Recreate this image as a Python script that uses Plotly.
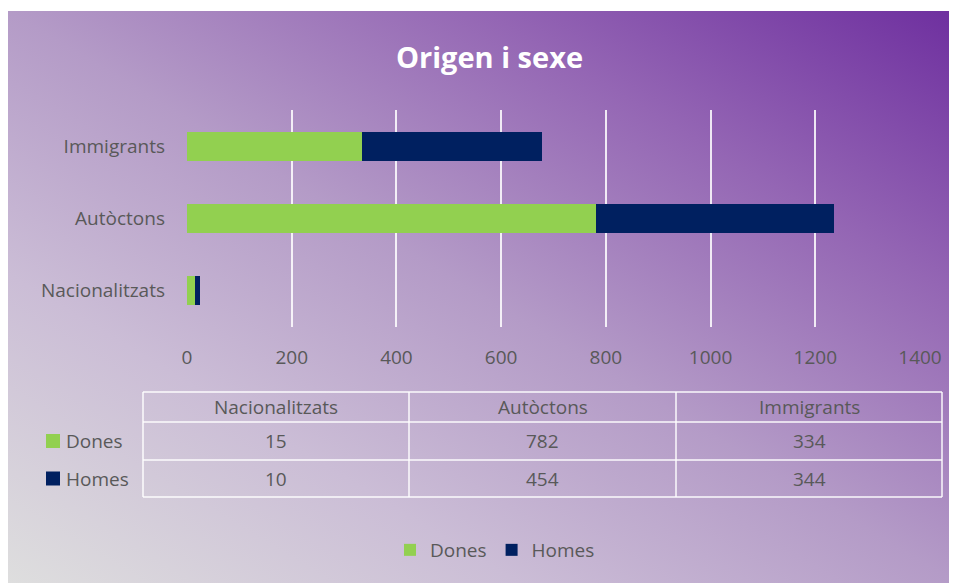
import urllib.parse
import plotly.graph_objs as go

# data
categories = ["Nacionalitzats", "Autòctons", "Immigrants"]
series = ["Dones", "Homes"]
dones = [15, 782, 334]
homes = [10, 454, 344]
x_ticks = [0, 200, 400, 600, 800, 1000, 1200, 1400]

colors = {"Dones": "#92d050", "Homes": "#002060"}
txt = "#595959"
font_family = "Open Sans, Noto Sans, sans-serif"

# the page has an 8px body margin, so the figure starts at (8, 8)
OFF = 8
W, H = 949, 575


def fx(px):
    return (px - OFF) / W


def fy(py):
    return 1 - (py - OFF) / H


# gradient background (svg data uri)
svg = (
    '<svg xmlns="http://www.w3.org/2000/svg" width="949" height="572" '
    'viewBox="0 0 949 572" preserveAspectRatio="none">'
    '<defs><linearGradient id="g" x1="0" y1="1" x2="1" y2="0">'
    '<stop offset="0" stop-color="#dedede"/>'
    '<stop offset="0.27" stop-color="#cbbdd6"/>'
    '<stop offset="0.5" stop-color="#b49bc7"/>'
    '<stop offset="0.75" stop-color="#9466b4"/>'
    '<stop offset="1" stop-color="#6e2f9f"/>'
    '</linearGradient></defs>'
    '<rect x="0" y="0" width="949" height="572" fill="url(#g)"/></svg>'
)
bg = "data:image/svg+xml;charset=utf-8," + urllib.parse.quote(svg)

traces = []
for name, vals in zip(series, [dones, homes]):
    traces.append(go.Bar(
        y=categories, x=vals, name=name, orientation="h",
        marker=dict(color=colors[name], line=dict(width=0)),
        hoverinfo="x+y+name",
    ))

fig = go.Figure(data=traces)

shapes = []
annotations = []

# data table under the chart
col_edges = [143, 409, 676, 942]
row_edges = [392, 422, 460, 497]
line_col = "rgba(255,255,255,0.7)"
for px in col_edges:
    shapes.append(dict(type="line", xref="paper", yref="paper",
                       x0=fx(px), x1=fx(px), y0=fy(row_edges[0]), y1=fy(row_edges[-1]),
                       line=dict(color=line_col, width=2)))
for py in row_edges:
    shapes.append(dict(type="line", xref="paper", yref="paper",
                       x0=fx(col_edges[0]), x1=fx(col_edges[-1]), y0=fy(py), y1=fy(py),
                       line=dict(color=line_col, width=2)))

table_rows = [categories, dones, homes]
for r, row in enumerate(table_rows):
    cy = (row_edges[r] + row_edges[r + 1]) / 2
    for c, val in enumerate(row):
        cx = (col_edges[c] + col_edges[c + 1]) / 2
        annotations.append(dict(
            text=str(val), xref="paper", yref="paper", x=fx(cx), y=fy(cy),
            xanchor="center", yanchor="middle", showarrow=False,
            font=dict(family=font_family, size=19, color=txt),
        ))

# legend keys for the table rows
for i, name in enumerate(series):
    cy = (row_edges[i + 1] + row_edges[i + 2]) / 2
    shapes.append(dict(
        type="rect", xref="paper", yref="paper",
        x0=fx(46), x1=fx(60), y0=fy(cy + 7), y1=fy(cy - 7),
        fillcolor=colors[name], line=dict(width=0),
    ))
    annotations.append(dict(
        text=name, xref="paper", yref="paper", x=fx(64), y=fy(cy),
        xanchor="left", yanchor="middle", showarrow=False,
        font=dict(family=font_family, size=19, color=txt),
    ))

annotations.append(dict(
    text="<b>Origen i sexe</b>", xref="paper", yref="paper",
    x=fx(489), y=fy(56), xanchor="center", yanchor="middle", showarrow=False,
    font=dict(family=font_family, size=29, color="white"),
))

fig.update_layout(
    width=W, height=H,
    margin=dict(l=0, r=0, t=0, b=0),
    paper_bgcolor="white",
    plot_bgcolor="rgba(0,0,0,0)",
    barmode="stack",
    bargap=0.6,
    font=dict(family=font_family, size=19, color=txt),
    images=[dict(
        source=bg, xref="paper", yref="paper",
        x=fx(8), y=fy(11), sizex=949 / W, sizey=572 / H,
        xanchor="left", yanchor="top", sizing="stretch", layer="below",
    )],
    xaxis=dict(
        domain=[fx(187), fx(920)], range=[0, 1400],
        tickvals=x_ticks, showgrid=True,
        gridcolor="rgba(255,255,255,0.85)", gridwidth=2,
        zeroline=False, showline=False, ticks="", ticklabelstandoff=17,
        tickfont=dict(size=19, color=txt), automargin=False,
    ),
    yaxis=dict(
        domain=[fy(327), fy(110)], showgrid=False, zeroline=False,
        showline=False, ticks="", ticklabelstandoff=21,
        tickfont=dict(size=19, color=txt), automargin=False,
    ),
    legend=dict(
        orientation="h", x=fx(495), y=fy(550), xanchor="center",
        yanchor="middle", bgcolor="rgba(0,0,0,0)", traceorder="normal",
        font=dict(size=19, color=txt), itemwidth=30,
    ),
    shapes=shapes,
    annotations=annotations,
)

fig.write_html("out.html")
